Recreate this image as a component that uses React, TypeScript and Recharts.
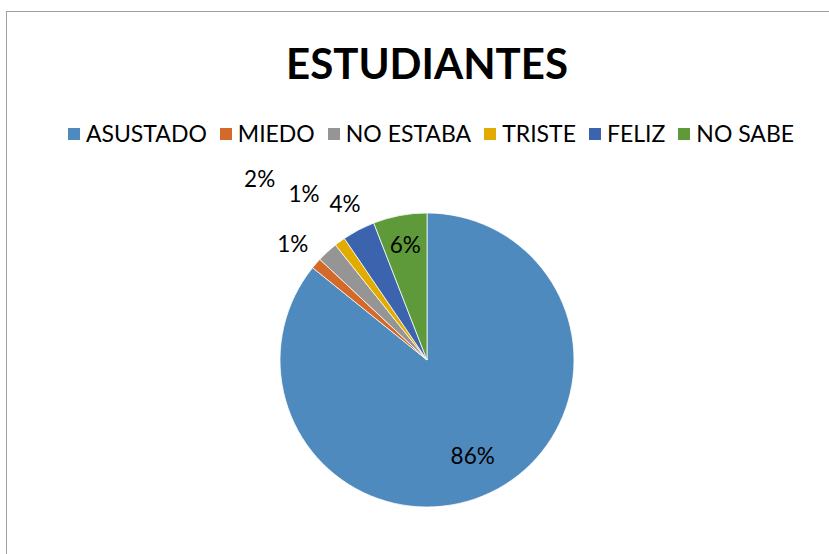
import { PieChart, Pie, Cell } from 'recharts';

const CATEGORIES = ['ASUSTADO', 'MIEDO', 'NO ESTABA', 'TRISTE', 'FELIZ', 'NO SABE'];
const SHARES = [85.8, 1.2, 2.3, 1.2, 3.6, 5.9];
const LABELS = ['86%', '1%', '2%', '1%', '4%', '6%'];

const COLORS = ['#4E8ABE', '#D46A2A', '#959595', '#E2AB00', '#3C64AE', '#5E9A3A'];
// distance of each label from the centre, as a share of the radius
const LABEL_RADIUS = [0.72, 1.21, 1.68, 1.41, 1.2, 0.8];

const FONT = 'Lato, "Open Sans", sans-serif';
const R = 147;

const data = CATEGORIES.map((name, i) => ({ name, value: SHARES[i], label: LABELS[i] }));

const RADIAN = Math.PI / 180;

function renderLabel(props: any) {
  const { cx, cy, midAngle, index } = props;
  const r = R * LABEL_RADIUS[index];
  const x = cx + r * Math.cos(-midAngle * RADIAN);
  const y = cy + r * Math.sin(-midAngle * RADIAN);
  return (
    <text x={x} y={y} textAnchor="middle" dominantBaseline="central"
      fontFamily={FONT} fontSize={22.5} fill="#000">
      {data[index].label}
    </text>
  );
}

export default function App() {
  return (
    <div style={{ position: 'relative', width: 829, height: 554, background: '#fff', overflow: 'hidden', fontFamily: FONT }}>
      <style>{'body{margin:0}'}</style>
      <div style={{ position: 'absolute', left: 6, top: 11, width: 900, height: 700, border: '1px solid #a0a0a0' }} />
      <div style={{ position: 'absolute', left: 0, width: 854, top: 37, textAlign: 'center', fontSize: 42, fontWeight: 700, lineHeight: '52px', color: '#000' }}>
        ESTUDIANTES
      </div>
      <div style={{ position: 'absolute', left: 0, width: 862, top: 120, display: 'flex', justifyContent: 'center', gap: 13, fontSize: 23, lineHeight: '27px', color: '#000' }}>
        {CATEGORIES.map((c, i) => (
          <span key={c} style={{ display: 'flex', alignItems: 'center' }}>
            <span style={{ width: 12, height: 12, background: COLORS[i], marginRight: 6, display: 'inline-block' }} />
            {c}
          </span>
        ))}
      </div>
      <div style={{ position: 'absolute', left: 0, top: 0 }}>
        <PieChart width={829} height={554} margin={{ top: 0, right: 0, bottom: 0, left: 0 }}>
          <Pie
            data={data}
            dataKey="value"
            nameKey="name"
            cx={427}
            cy={360}
            outerRadius={R}
            startAngle={90}
            endAngle={-270}
            stroke="#fff"
            strokeWidth={0.75}
            label={renderLabel}
            labelLine={false}
            isAnimationActive={false}
          >
            {data.map((d, i) => (
              <Cell key={d.name} fill={COLORS[i]} />
            ))}
          </Pie>
        </PieChart>
      </div>
    </div>
  );
}
